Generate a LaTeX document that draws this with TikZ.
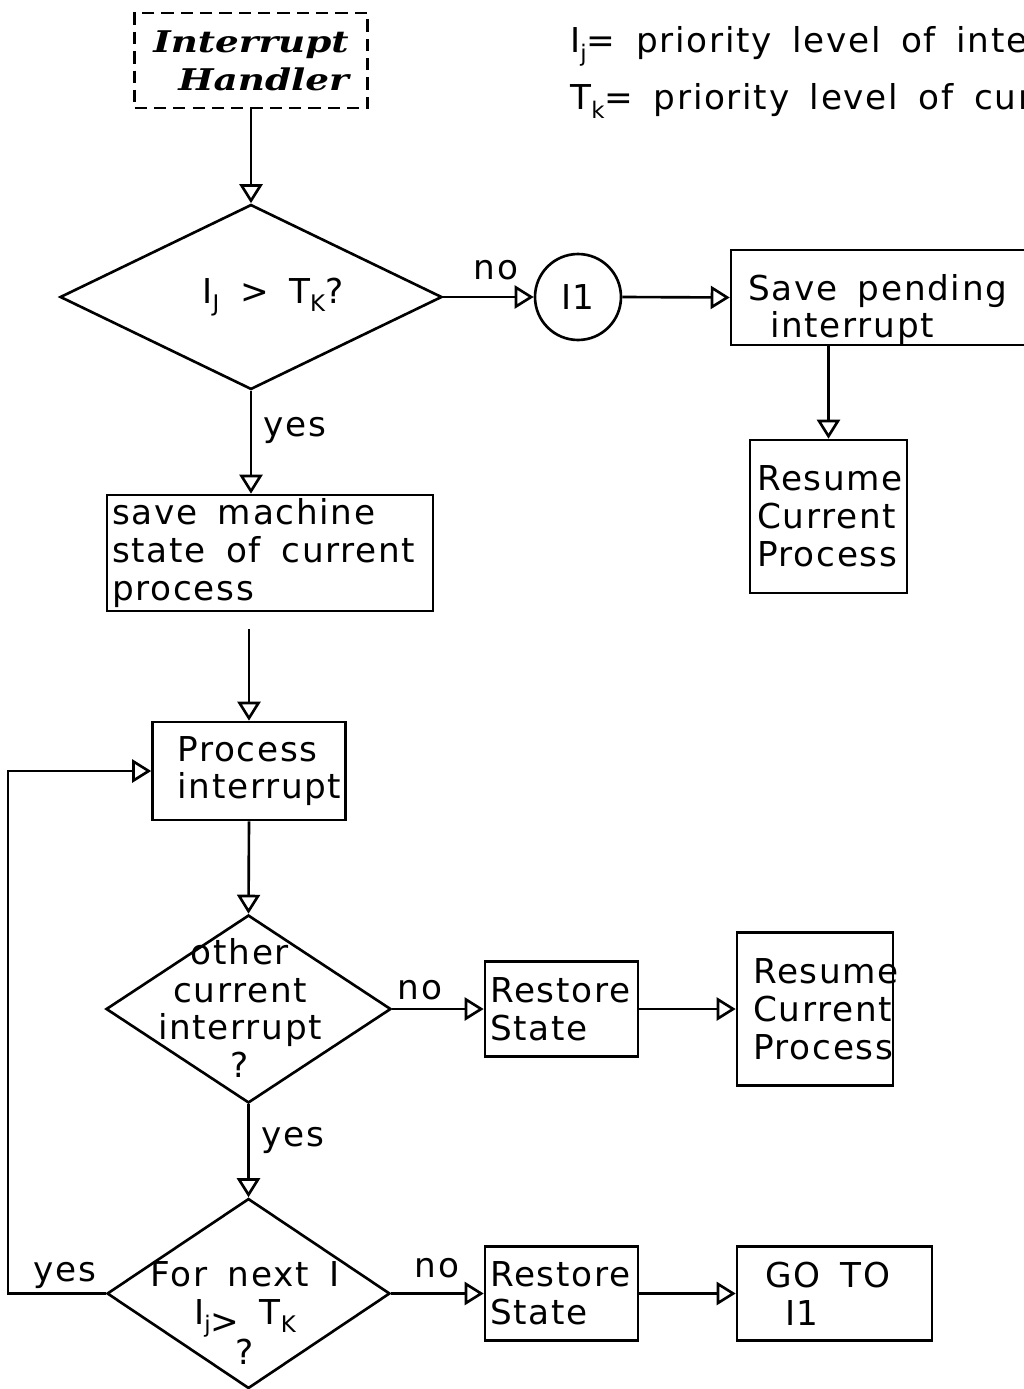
\documentclass[tikz,border=0pt]{standalone}
\usepackage{fontspec}
\usepackage{tikz}
\usetikzlibrary{arrows.meta}
\usetikzlibrary{shapes.geometric}
\newfontfamily\plotfont{DejaVu Sans}[LetterSpace=5]
\newfontfamily\titlefont{DejaVu Serif}[FakeStretch=1.25]
\newcommand{\plotsize}{\fontsize{19.5}{21.5}\selectfont\spaceskip 0.6em\relax}
\newcommand{\lowidx}[1]{\raisebox{-0.45ex}{\fontsize{13}{13}\selectfont #1}}

\begin{document}
\begin{tikzpicture}[x=0.02cm, y=-0.02cm,
 flow/.style={line width=1.5pt, -{Triangle[open, length=0.38cm, width=0.46cm]}},
 box/.style={rectangle, draw, line width=1.5pt, align=flush left, inner ysep=0pt, font=\plotfont\plotsize},
 decision/.style={diamond, draw, line width=1.5pt, inner sep=0pt},
 plain/.style={font=\plotfont\plotsize, inner sep=0pt, align=center}]
 \clip (0, 0) rectangle (1024, 1389);
 \node [rectangle, draw, line width=1.5pt, dash pattern=on 7pt off 4pt, minimum width=4.66cm, minimum height=1.9cm, align=right, font=\titlefont\bfseries\itshape\fontsize{17}{21.6}\selectfont] (handler) at (251, 60.5) {Interrupt\\Handler};
 \node [plain, anchor=base west] (legj) at (570, 53) {I\lowidx{j}= priority level of interrupt};
 \node [plain, anchor=base west] (legk) at (570, 110) {T\lowidx{k}= priority level of current process};
 \node [decision, minimum width=7.64cm, minimum height=3.7cm] (q1) at (251, 297) {};
 \node [plain] (q1txt) at (273, 297) {I\lowidx{J} > T\lowidx{K}?};
 \node [circle, draw, line width=1.5pt, minimum size=1.72cm, font=\plotfont\plotsize] (c1) at (578, 297) {I1};
 \node [box, minimum width=6.58cm, minimum height=1.9cm, inner xsep=0.34cm, text width=5.9cm] (save) at (895.5, 297.5) {\rule{0pt}{1cm}Save pending\\\hspace*{0.44cm}interrupt};
 \node [box, minimum width=3.14cm, minimum height=3.06cm, inner xsep=0.14cm, text width=2.86cm] (resume) at (828.5, 516.5) {Resume\\Current\\Process};
 \node [box, minimum width=6.52cm, minimum height=2.32cm, inner xsep=0.1cm, text width=6.32cm] (machine) at (270, 553) {save machine\\state of current\\process};
 \node [box, minimum width=3.86cm, minimum height=1.96cm, inner xsep=0.5cm, text width=2.86cm] (procint) at (249, 771) {Process\\interrupt};
 \node [decision, minimum width=5.7cm, minimum height=3.76cm] (q2) at (248.5, 1009) {};
 \node [plain] (q2txt) at (240, 1008) {other\\current\\interrupt\\?};
 \node [box, minimum width=3.06cm, minimum height=1.9cm, inner xsep=0.1cm, text width=2.86cm] (restore) at (561.5, 1009) {Restore\\State};
 \node [box, minimum width=3.12cm, minimum height=3.06cm, inner xsep=0.32cm, text width=2.48cm] (resumeb) at (815, 1009) {Resume\\Current\\Process};
 \node [decision, minimum width=5.66cm, minimum height=3.8cm] (q3) at (248.5, 1293.5) {};
 \node [plain] (q3txt) at (245, 1313) {For next I\\I\lowidx{j}\raisebox{-0.5ex}{>} T\lowidx{K}\\?};
 \node [box, minimum width=3.06cm, minimum height=1.88cm, inner xsep=0.1cm, text width=2.86cm] (restoreb) at (561.5, 1293.5) {Restore\\State};
 \node [box, minimum width=3.9cm, minimum height=1.88cm, inner xsep=0.56cm, text width=2.78cm] (goto) at (834.5, 1293.5) {GO TO\\\hspace*{0.4cm}I1};
 \coordinate (loop) at (8, 771);
 \node [plain] (no1) at (496, 270) {no};
 \node [plain] (yes1) at (295, 430) {yes};
 \node [plain] (no2) at (420, 990) {no};
 \node [plain] (yes2) at (293, 1140) {yes};
 \node [plain] (no3) at (437, 1268) {no};
 \node [plain] (yes3) at (65, 1275) {yes};
 \draw [flow] (handler.south) to (q1.north);
 \draw [flow] (q1.east) to (c1.west);
 \draw [flow] (c1.east) to (save.west);
 \draw [flow] (resume.north |- save.south) to (resume.north);
 \draw [flow] (q1.south) to (q1.south |- machine.north);
 \draw [flow, shorten <=0.34cm] (procint.north |- machine.south) to (procint.north);
 \draw [flow] (procint.south) to (q2.north);
 \draw [flow] (q2.east) to (restore.west);
 \draw [flow] (restore.east) to (resumeb.west);
 \draw [flow] (q2.south) to (q3.north);
 \draw [flow] (q3.east) to (restoreb.west);
 \draw [flow] (restoreb.east) to (goto.west);
 \draw [flow] (q3.west) -| (loop) -- (procint.west);
\end{tikzpicture}
\end{document}
